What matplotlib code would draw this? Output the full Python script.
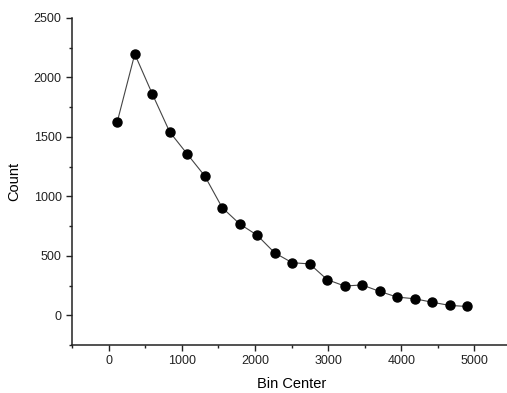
import matplotlib
matplotlib.use("Agg")
import matplotlib.pyplot as plt
from matplotlib.ticker import MultipleLocator

bin_centers = [119, 358, 597, 836, 1075, 1314, 1553, 1792, 2031, 2270, 2509,
               2748, 2987, 3226, 3465, 3704, 3943, 4182, 4421, 4660, 4899]
counts = [1628, 2197, 1862, 1541, 1356, 1172, 905, 768, 673, 525, 442,
          432, 300, 246, 255, 201, 153, 139, 110, 83, 74]

plt.rcParams["font.family"] = ["Liberation Sans", "DejaVu Sans"]

fig = plt.figure(figsize=(5.07, 3.93), dpi=100, facecolor="white")
ax = fig.add_axes([72 / 507, 48 / 393, 439 / 507, 327 / 393])

ax.plot(bin_centers, counts, color="#444444", lw=0.8, marker="o",
        markersize=6.5, markerfacecolor="black", markeredgecolor="black")

ax.set_xlim(-500, 5500)
ax.set_ylim(-250, 2500)
ax.xaxis.set_major_locator(MultipleLocator(1000))
ax.xaxis.set_minor_locator(MultipleLocator(500))
ax.yaxis.set_major_locator(MultipleLocator(500))
ax.yaxis.set_minor_locator(MultipleLocator(250))

for side in ("top", "right"):
    ax.spines[side].set_visible(False)
for side in ("left", "bottom"):
    ax.spines[side].set_linewidth(1.1)
    ax.spines[side].set_color("#222222")

ax.tick_params(which="major", direction="out", length=4, width=1, labelsize=9, colors="#222222")
ax.tick_params(which="minor", direction="out", length=2.5, width=1, colors="#222222")

ax.set_xlabel("Bin Center", fontsize=10.5, labelpad=7)
ax.set_ylabel("Count", fontsize=10.5, labelpad=9)

fig.savefig("out.png", dpi=100)
